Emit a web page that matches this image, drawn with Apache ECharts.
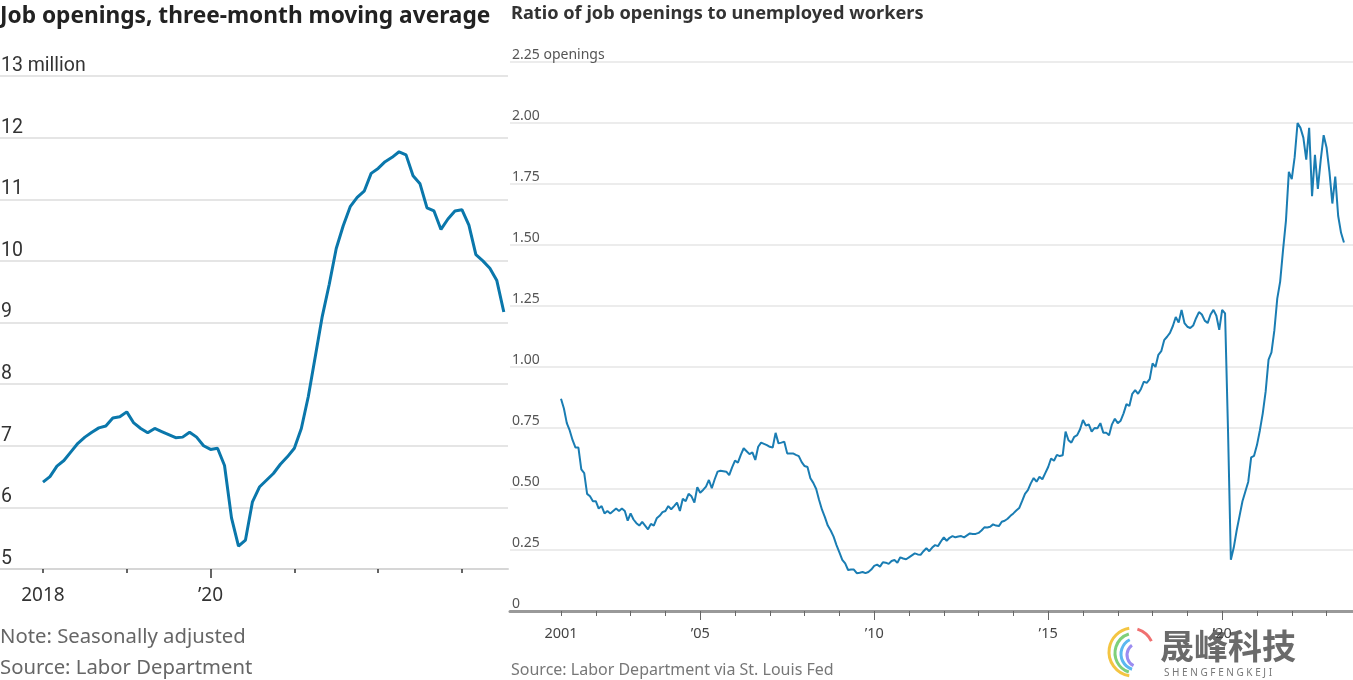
<!DOCTYPE html>
<html>
<head>
<meta charset="utf-8">
<script src="https://cdn.jsdelivr.net/npm/echarts@6/dist/echarts.min.js"></script>
<style>
html,body{margin:0;padding:0;background:#fff;}
#chart{width:1353px;height:680px;}
</style>
</head>
<body>
<div id="chart"></div>
<script>
// ---------- Left chart: job openings, 3-month moving average (millions), monthly from Jan 2018 ----------
const openingsStartYear = 2018;
const openingsAvg = [
  6.41, 6.50, 6.67, 6.76, 6.90, 7.04, 7.14, 7.22, 7.29, 7.32, 7.45, 7.47,
  7.55, 7.37, 7.28, 7.21, 7.28, 7.23, 7.18, 7.13, 7.14, 7.22, 7.14, 7.00,
  6.94, 6.96, 6.68, 5.83, 5.37, 5.47, 6.09, 6.33, 6.44, 6.55, 6.70, 6.82,
  6.96, 7.28, 7.80, 8.45, 9.10, 9.62, 10.20, 10.57, 10.88, 11.03, 11.13, 11.42,
  11.50, 11.61, 11.68, 11.77, 11.72, 11.38, 11.25, 10.86, 10.81, 10.51, 10.68, 10.81,
  10.83, 10.58, 10.10, 10.00, 9.88, 9.68, 9.17
];
const leftTickYears = [2018, 2019, 2020, 2021, 2022, 2023];
const leftMajorYears = [2020];
const leftLabelYears = [2018, 2020];
const leftLabelText = {2018: '2018', 2020: '\u201920'};

// ---------- Right chart: ratio of job openings to unemployed workers, monthly from Jan 2001 ----------
const ratioStartYear = 2001;
const ratio = [
  0.87, 0.83, 0.77, 0.74, 0.70, 0.67, 0.67, 0.58, 0.565, 0.48, 0.47, 0.45,
  0.45, 0.42, 0.43, 0.40, 0.41, 0.40, 0.41, 0.42, 0.41, 0.42, 0.41, 0.37,
  0.40, 0.375, 0.36, 0.35, 0.365, 0.35, 0.335, 0.357, 0.35, 0.38, 0.39, 0.405,
  0.41, 0.43, 0.417, 0.43, 0.444, 0.41, 0.46, 0.45, 0.48, 0.47, 0.444, 0.507,
  0.485, 0.496, 0.51, 0.537, 0.503, 0.54, 0.571, 0.575, 0.573, 0.571, 0.557, 0.589,
  0.616, 0.608, 0.64, 0.667, 0.655, 0.643, 0.65, 0.619, 0.673, 0.69, 0.685, 0.68,
  0.673, 0.67, 0.73, 0.687, 0.69, 0.694, 0.646, 0.646, 0.646, 0.64, 0.635, 0.61,
  0.594, 0.59, 0.544, 0.525, 0.50, 0.455, 0.415, 0.385, 0.35, 0.33, 0.305, 0.27,
  0.24, 0.21, 0.195, 0.168, 0.17, 0.17, 0.155, 0.157, 0.16, 0.155, 0.16, 0.17,
  0.185, 0.19, 0.182, 0.20, 0.198, 0.193, 0.205, 0.209, 0.198, 0.22, 0.215, 0.212,
  0.22, 0.228, 0.236, 0.232, 0.23, 0.245, 0.257, 0.245, 0.26, 0.27, 0.266, 0.285,
  0.302, 0.288, 0.30, 0.307, 0.302, 0.305, 0.307, 0.302, 0.31, 0.318, 0.316, 0.316,
  0.32, 0.33, 0.343, 0.342, 0.345, 0.355, 0.35, 0.348, 0.366, 0.37, 0.378, 0.39,
  0.40, 0.412, 0.422, 0.45, 0.48, 0.495, 0.523, 0.545, 0.53, 0.55, 0.54, 0.565,
  0.59, 0.625, 0.616, 0.64, 0.635, 0.638, 0.735, 0.70, 0.69, 0.714, 0.721, 0.745,
  0.783, 0.76, 0.765, 0.735, 0.75, 0.749, 0.77, 0.731, 0.731, 0.72, 0.765, 0.788,
  0.77, 0.78, 0.81, 0.848, 0.84, 0.89, 0.905, 0.89, 0.91, 0.94, 0.935, 0.95,
  1.015, 1.00, 1.05, 1.065, 1.11, 1.124, 1.14, 1.168, 1.205, 1.182, 1.234, 1.18,
  1.165, 1.16, 1.17, 1.20, 1.225, 1.215, 1.19, 1.18, 1.215, 1.234, 1.21, 1.152,
  1.234, 1.22, 0.75, 0.21, 0.26, 0.33, 0.39, 0.45, 0.49, 0.53, 0.63, 0.636,
  0.68, 0.74, 0.81, 0.90, 1.03, 1.06, 1.15, 1.28, 1.35, 1.48, 1.60, 1.80,
  1.77, 1.86, 2.00, 1.98, 1.94, 1.85, 1.98, 1.70, 1.87, 1.73, 1.85, 1.95,
  1.90, 1.80, 1.67, 1.78, 1.62, 1.55, 1.51
];
const rightTickYears = [2001, 2002, 2003, 2004, 2005, 2006, 2007, 2008, 2009, 2010, 2011, 2012,
  2013, 2014, 2015, 2016, 2017, 2018, 2019, 2020, 2021, 2022, 2023];
const rightMajorYears = [2005, 2010, 2015, 2020];
const rightLabelYears = [2001, 2005, 2010, 2015, 2020];
const rightLabelText = {2001: '2001', 2005: '\u201905', 2010: '\u201910', 2015: '\u201915', 2020: '\u201920'};

const leftSeriesData = openingsAvg.map((v, i) => [openingsStartYear + i / 12, v]);
const rightSeriesData = ratio.map((v, i) => [ratioStartYear + i / 12, v]);

const FONT = '"Noto Sans", sans-serif';
const LABEL_FONT = 'Roboto, "Noto Sans", sans-serif';
const chart = echarts.init(document.getElementById('chart'), null, {renderer: 'canvas'});

const option = {
  animation: false,
  backgroundColor: '#fff',
  textStyle: {fontFamily: FONT},
  title: [
    {text: 'Job openings, three-month moving average', left: 0, top: 5, padding: 0,
     textStyle: {fontFamily: FONT, fontSize: 22.7, fontWeight: 'bold', color: '#222'}},
    {text: 'Ratio of job openings to unemployed workers', left: 511, top: 5, padding: 0,
     textStyle: {fontFamily: FONT, fontSize: 18.2, fontWeight: 'bold', color: '#333'}},
    {text: 'Note: Seasonally adjusted', left: 0, top: 627, padding: 0,
     textStyle: {fontFamily: FONT, fontSize: 20.3, fontWeight: 'normal', color: '#666'}},
    {text: 'Source: Labor Department', left: 0, top: 658, padding: 0,
     textStyle: {fontFamily: FONT, fontSize: 20.3, fontWeight: 'normal', color: '#666'}},
    {text: 'Source: Labor Department via St. Louis Fed', left: 511, top: 662, padding: 0,
     textStyle: {fontFamily: FONT, fontSize: 16, fontWeight: 'normal', color: '#777'}}
  ],
  grid: [
    {left: 0, right: 845, top: 76, bottom: 111, containLabel: false, outerBoundsMode: 'none'},
    {left: 510, right: 0, top: 62, bottom: 69, containLabel: false, outerBoundsMode: 'none'}
  ],
  xAxis: [
    { // left minor ticks + labels
      type: 'value', gridIndex: 0, position: 'bottom',
      min: 2017.487, max: 2023.55,
      axisLine: {show: true, lineStyle: {color: '#d6d6d6', width: 2}},
      axisTick: {show: true, customValues: leftTickYears, length: 4, lineStyle: {color: '#333', width: 1.5}},
      axisLabel: {show: true, customValues: leftLabelYears, margin: 17,
        formatter: v => leftLabelText[Math.round(v)] || '', fontSize: 19, color: '#333', fontFamily: FONT},
      splitLine: {show: false}
    },
    { // left major tick
      type: 'value', gridIndex: 0, position: 'bottom',
      min: 2017.487, max: 2023.55,
      axisLine: {show: false},
      axisTick: {show: true, customValues: leftMajorYears, length: 9, lineStyle: {color: '#333', width: 1.5}},
      axisLabel: {show: false},
      splitLine: {show: false}
    },
    { // right minor ticks + labels
      type: 'value', gridIndex: 1, position: 'bottom',
      min: 1999.534, max: 2023.76,
      axisLine: {show: true, lineStyle: {color: '#999', width: 3}},
      axisTick: {show: true, customValues: rightTickYears, length: 5, lineStyle: {color: '#666', width: 1}},
      axisLabel: {show: true, customValues: rightLabelYears, margin: 15,
        formatter: v => rightLabelText[Math.round(v)] || '', fontSize: 14.5, color: '#444', fontFamily: FONT},
      splitLine: {show: false}
    },
    { // right major ticks
      type: 'value', gridIndex: 1, position: 'bottom',
      min: 1999.534, max: 2023.76,
      axisLine: {show: false},
      axisTick: {show: true, customValues: rightMajorYears, length: 9, lineStyle: {color: '#666', width: 1}},
      axisLabel: {show: false},
      splitLine: {show: false}
    }
  ],
  yAxis: [
    {
      type: 'value', gridIndex: 0, min: 5, max: 13, interval: 1,
      axisLine: {show: false}, axisTick: {show: false},
      splitLine: {show: true, lineStyle: {color: '#dcdcdc', width: 1.5}},
      axisLabel: {inside: true, margin: 1, verticalAlign: 'bottom', padding: [0, 0, 0, 0],
        fontSize: 19.5, color: '#333', fontFamily: LABEL_FONT,
        formatter: v => v === 13 ? '13 million' : String(v)}
    },
    {
      type: 'value', gridIndex: 1, min: 0, max: 2.25, interval: 0.25,
      axisLine: {show: false}, axisTick: {show: false},
      splitLine: {show: true, lineStyle: {color: '#ececec', width: 2}},
      axisLabel: {inside: true, margin: 2, verticalAlign: 'bottom', padding: [0, 0, 0, 0],
        fontSize: 14, color: '#555', fontFamily: FONT,
        formatter: v => v === 0 ? '0' : (Math.abs(v - 2.25) < 1e-9 ? '2.25 openings' : v.toFixed(2))}
    }
  ],
  series: [
    {type: 'line', xAxisIndex: 0, yAxisIndex: 0, data: leftSeriesData, showSymbol: false,
     lineStyle: {color: '#0a77ab', width: 3}, itemStyle: {color: '#0a77ab'}, z: 5},
    {type: 'line', xAxisIndex: 2, yAxisIndex: 1, data: rightSeriesData, showSymbol: false,
     lineStyle: {color: '#1a7db3', width: 2}, itemStyle: {color: '#1a7db3'}, z: 5}
  ],
  graphic: [
    {type: 'arc', shape: {cx: 1133, cy: 652, r: 24, startAngle: Math.PI * 0.55, endAngle: Math.PI * 1.45},
     style: {stroke: '#f4c542', lineWidth: 3, fill: null}},
    {type: 'arc', shape: {cx: 1135, cy: 653, r: 20, startAngle: Math.PI * 0.6, endAngle: Math.PI * 1.4},
     style: {stroke: '#7fd07a', lineWidth: 3, fill: null}},
    {type: 'arc', shape: {cx: 1137, cy: 654, r: 16, startAngle: Math.PI * 0.6, endAngle: Math.PI * 1.35},
     style: {stroke: '#5bb8f0', lineWidth: 3, fill: null}},
    {type: 'arc', shape: {cx: 1139, cy: 655, r: 12, startAngle: Math.PI * 0.65, endAngle: Math.PI * 1.3},
     style: {stroke: '#9b8cf0', lineWidth: 3, fill: null}},
    {type: 'arc', shape: {cx: 1130, cy: 652, r: 24, startAngle: Math.PI * 1.6, endAngle: Math.PI * 1.85},
     style: {stroke: '#f07070', lineWidth: 3, fill: null}},
    {type: 'text', left: 1160, top: 629,
     style: {text: '晟峰科技', font: 'bold 34px "Noto Sans CJK SC"', fill: '#6a6a6a'}},
    {type: 'text', left: 1164, top: 668,
     style: {text: 'S H E N G F E N G K E J I', font: '10px "Noto Sans"', fill: '#777'}}
  ]
};
chart.setOption(option);
</script>
</body>
</html>
